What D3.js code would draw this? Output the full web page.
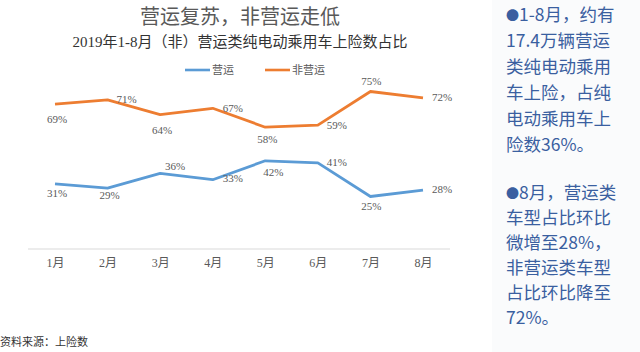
<!DOCTYPE html>
<html><head><meta charset="utf-8">
<script src="https://cdn.jsdelivr.net/npm/d3@7/dist/d3.min.js"></script>
<style>
html,body{margin:0;padding:0;background:#fff;}
svg{display:block;}
</style></head>
<body>
<svg id="c" width="640" height="352"></svg>
<script>
const months = ["1月","2月","3月","4月","5月","6月","7月","8月"];
const operating = [31,29,36,33,42,41,25,28];
const nonOperating = [69,71,64,67,58,59,75,72];
const seriesNames = ["营运","非营运"];
const colors = ["#5B9BD5","#ED7D31"];
const title = "营运复苏，非营运走低";
const subtitle = "2019年1-8月（非）营运类纯电动乘用车上险数占比";
const source = "资料来源：上险数";
const note1 = ["●1-8月，约有","17.4万辆营运","类纯电动乘用","车上险，占纯","电动乘用车上","险数36%。"];
const note2 = ["●8月，营运类","车型占比环比","微增至28%，","非营运类车型","占比环比降至","72%。"];
// label placement offsets per point [dx, dy]
const opOff = [[2,13],[2,11],[15,-3],[20,2],[8,15],[19,3],[1,13],[19,3]];
const nonOff = [[2,19],[19,3],[2,19],[20,4],[2,16],[19,4],[1,-7],[19,3]];

const svg = d3.select("#c");
const serif = "'Liberation Serif','Noto Sans CJK SC',serif";
const cjk = "'Noto Sans CJK SC','Noto Sans',sans-serif";

// right panel background
svg.append("rect").attr("x",492).attr("y",0).attr("width",148).attr("height",352).attr("fill","#fafbfc");

svg.append("text").attr("x",240).attr("y",24).attr("text-anchor","middle")
  .attr("font-family",cjk).attr("font-size",20).attr("fill","#595959").text(title);
svg.append("text").attr("x",240).attr("y",47).attr("text-anchor","middle")
  .attr("font-family",serif).attr("font-size",15).attr("fill","#333").text(subtitle);

const x = d3.scalePoint().domain(months).range([55,423]);
const y = d3.scaleLinear().domain([0,100]).range([249,39]);

// axis
const ax = svg.append("g").attr("transform","translate(0,249)")
  .call(d3.axisBottom(x).tickSize(0).tickPadding(9));
ax.select(".domain").attr("stroke","#d9d9d9").attr("d","M28,0H450");
ax.selectAll("text").attr("font-family",serif).attr("font-size",12).attr("fill","#595959");

const data = [operating, nonOperating];
const offs = [opOff, nonOff];
const line = d3.line().x((d,i)=>x(months[i])).y(d=>y(d));
data.forEach((s,k)=>{
  svg.append("path").datum(s).attr("d",line).attr("fill","none")
    .attr("stroke",colors[k]).attr("stroke-width",2.8).attr("stroke-linejoin","round");
  svg.append("g").selectAll("text").data(s).join("text")
    .attr("x",(d,i)=>x(months[i])+offs[k][i][0])
    .attr("y",(d,i)=>y(d)+offs[k][i][1])
    .attr("text-anchor","middle")
    .attr("font-family",serif).attr("font-size",11).attr("fill","#595959")
    .text(d=>d+"%");
});

// legend
const lg = svg.append("g");
[[185,212],[265,292]].forEach((p,k)=>{
  lg.append("line").attr("x1",p[0]).attr("x2",p[0]+25).attr("y1",70).attr("y2",70)
    .attr("stroke",colors[k]).attr("stroke-width",2.6);
  lg.append("text").attr("x",p[1]).attr("y",74).attr("font-family",cjk)
    .attr("font-size",11).attr("fill","#595959").text(seriesNames[k]);
});

svg.append("text").attr("x",0).attr("y",346).attr("font-family",cjk)
  .attr("font-size",11).attr("fill","#333").text(source);

// notes
const noteColor = "#3A5FA0";
[[note1,21,26],[note2,199,25]].forEach(([lines,y0,dy])=>{
  const t = svg.append("g").selectAll("text").data(lines).join("text")
    .attr("x",506).attr("y",(d,i)=>y0+i*dy)
    .attr("font-family",cjk).attr("font-size",17.5).attr("fill",noteColor);
  t.each(function(d){
    const el = d3.select(this);
    if (d.startsWith("●")) {
      el.append("tspan").attr("font-size",13).attr("dy",-1).text("●");
      el.append("tspan").attr("dy",1).text(d.slice(1));
    } else el.text(d);
  });
});
</script>
</body></html>
